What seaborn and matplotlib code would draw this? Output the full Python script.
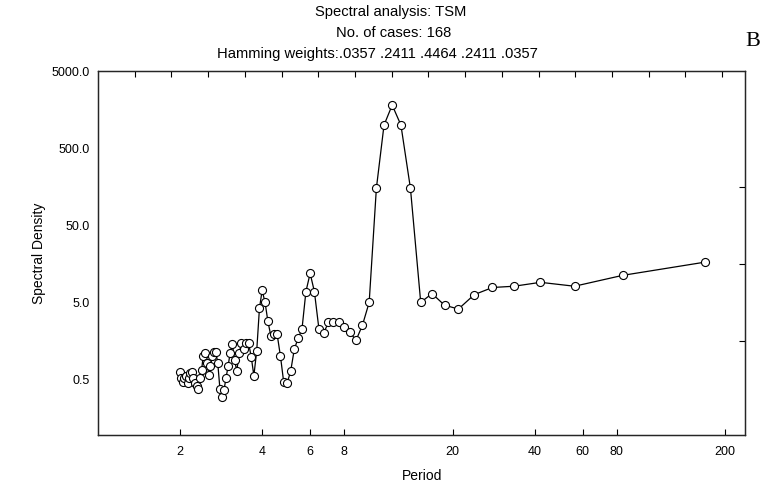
import numpy as np
import pandas as pd
import seaborn as sns
import matplotlib.pyplot as plt
from matplotlib.ticker import FixedLocator, NullLocator

# periods (168 / harmonic), longest first
period = [168, 84, 56, 42, 33.6, 28, 24, 21, 18.67, 16.8,
          15.27, 14, 12.92, 12, 11.2, 10.5, 9.88, 9.33, 8.84, 8.4,
          8.0, 7.64, 7.30, 7.0, 6.72, 6.46, 6.22, 6.0, 5.79, 5.6,
          5.42, 5.25, 5.09, 4.94, 4.8, 4.67, 4.54, 4.42, 4.31, 4.2,
          4.10, 4.0, 3.91, 3.82, 3.73, 3.65, 3.57, 3.5, 3.43, 3.36,
          3.29, 3.23, 3.17, 3.11, 3.05, 3.0, 2.95, 2.90, 2.85, 2.8,
          2.75, 2.71, 2.67, 2.625, 2.58, 2.55, 2.51, 2.47, 2.43, 2.4,
          2.37, 2.33, 2.30, 2.27, 2.24, 2.21, 2.18, 2.15, 2.13, 2.1,
          2.07, 2.05, 2.02, 2.0]

density = [16.6, 11.2, 8.1, 9.1, 8.1, 7.8, 6.3, 4.1, 4.6, 6.5,
           5.0, 151, 995, 1810, 995, 151, 5.0, 2.52, 1.61, 2.04,
           2.37, 2.75, 2.75, 2.75, 1.98, 2.29, 6.9, 11.9, 6.9, 2.24,
           1.71, 1.24, 0.64, 0.45, 0.46, 1.0, 1.93, 1.93, 1.81, 2.83,
           5.0, 7.15, 4.18, 1.16, 0.56, 0.97, 1.47, 1.47, 1.26, 1.47,
           1.09, 0.64, 0.89, 1.43, 1.09, 0.74, 0.53, 0.37, 0.30, 0.38,
           0.81, 1.12, 1.12, 1.0, 0.74, 0.58, 0.83, 1.09, 1.0, 0.67,
           0.52, 0.38, 0.41, 0.45, 0.52, 0.62, 0.60, 0.53, 0.45, 0.55,
           0.52, 0.46, 0.53, 0.62]

xticks = [2, 4, 6, 8, 20, 40, 60, 80, 200]
yticks = [0.5, 5, 50, 500, 5000]
ylabels = ['0.5', '5.0', '50.0', '500.0', '5000.0']
title_lines = ['Spectral analysis: TSM', 'No. of cases: 168',
               'Hamming weights:.0357 .2411 .4464 .2411 .0357']

df = pd.DataFrame({'period': period, 'density': density})

sns.set_style('white')
plt.rcParams['font.family'] = ['Liberation Sans', 'DejaVu Sans']
plt.rcParams['text.color'] = 'black'
plt.rcParams['axes.labelcolor'] = 'black'
plt.rcParams['xtick.color'] = 'black'
plt.rcParams['ytick.color'] = 'black'

fig = plt.figure(figsize=(7.78, 4.90), dpi=100)
ax = fig.add_axes([0.126, 0.112, 0.832, 0.743])

sns.lineplot(data=df, x='period', y='density', ax=ax, color='black', lw=0.9,
             marker='o', markersize=5.8, markerfacecolor='white',
             markeredgecolor='black', markeredgewidth=0.8)

ax.set_xscale('log')
ax.set_yscale('log')
ax.set_xlim(1, 237)
ax.set_ylim(0.095, 5000)

ax.xaxis.set_major_locator(FixedLocator(xticks))
ax.xaxis.set_minor_locator(NullLocator())
ax.set_xticklabels([str(t) for t in xticks])
ax.yaxis.set_major_locator(FixedLocator(yticks))
ax.yaxis.set_minor_locator(NullLocator())
ax.set_yticklabels(ylabels)

ax.tick_params(axis='x', direction='in', length=4, width=0.8, labelsize=9,
               pad=8, bottom=True)
ax.tick_params(axis='y', length=0, labelsize=9, pad=6, left=True)

for s in ax.spines.values():
    s.set_color('black')
    s.set_linewidth(0.9)

ax.set_xlabel('Period', fontsize=10, labelpad=8)
ax.set_ylabel('Spectral Density', fontsize=10, labelpad=4)

# top ticks (evenly spaced) and right ticks
top = ax.twiny()
top.set_xlim(0, 17.63)
top.set_xticks(np.arange(1, 18))
top.tick_params(axis='x', direction='in', length=4, width=0.8, labeltop=False, top=True)
right = ax.twinx()
right.set_yscale('log')
right.set_ylim(0.095, 5000)
right.yaxis.set_major_locator(FixedLocator([1.58, 15.8, 158]))
right.yaxis.set_minor_locator(NullLocator())
right.tick_params(axis='y', direction='in', length=4, width=0.8, labelright=False, right=True)

title_x = [391, 394, 377]
for i, line in enumerate(title_lines):
    fig.text(title_x[i] / 778, 1 - (12 + 21 * i) / 490, line, ha='center',
             va='center', fontsize=10.6)
fig.text(0.967, 1 - 42 / 490, 'B', ha='center', va='center', fontsize=16,
         family=['Liberation Serif', 'DejaVu Serif'])

plt.savefig('out.png', dpi=100)
